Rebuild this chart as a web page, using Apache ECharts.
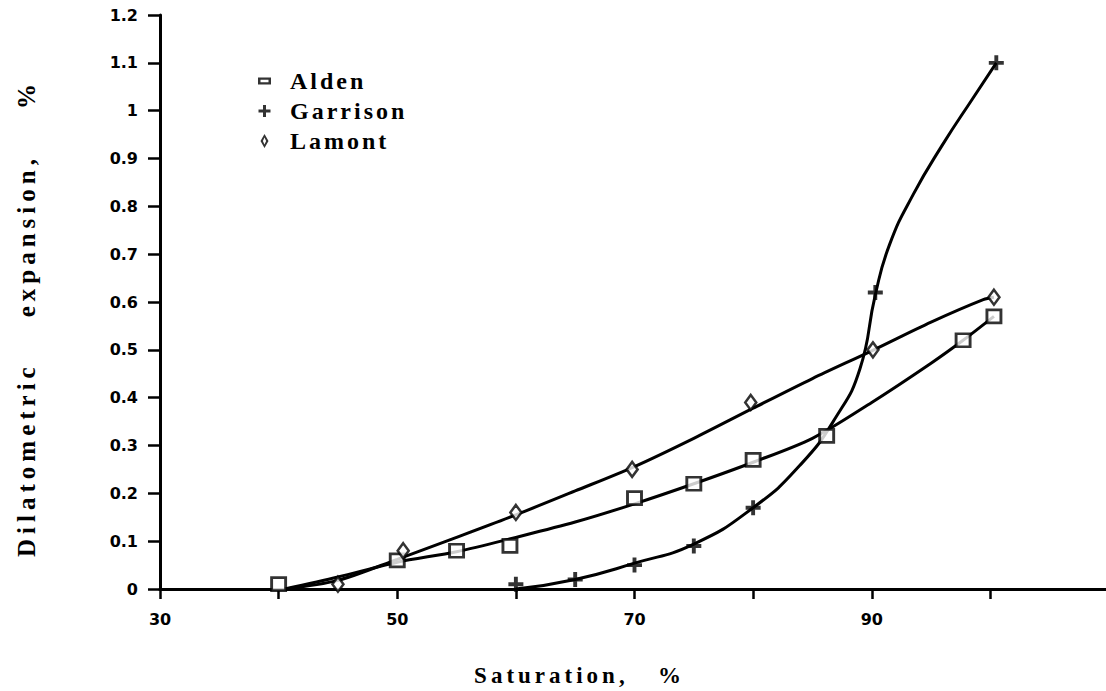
<!DOCTYPE html>
<html>
<head>
<meta charset="utf-8">
<script src="https://cdn.jsdelivr.net/npm/echarts@6/dist/echarts.min.js"></script>
<style>
  html, body { margin: 0; padding: 0; background: #fff; }
  #chart { width: 1106px; height: 691px; }
  /* spaced-out serif lettering: legend entries and axis titles */
  #chart text[style*="Liberation Serif"] { letter-spacing: 3px; white-space: pre; }
  #chart text[style*=", serif"] { letter-spacing: 4px; white-space: pre; }
  #chart text[style*="Times"] { letter-spacing: 5px; white-space: pre; }
</style>
</head>
<body>
<div id="chart"></div>
<script>
// Measured points: [saturation %, dilatometric expansion %]
const seriesNames = ['Alden', 'Garrison', 'Lamont'];
const aldenPoints = [[40, 0.01], [50, 0.06], [55, 0.08], [59.5, 0.09], [70, 0.19], [75, 0.22], [80, 0.27], [86.2, 0.32], [97.7, 0.52], [100.3, 0.57]];
const garrisonPoints = [[60, 0.01], [65, 0.02], [70, 0.05], [75, 0.09], [80, 0.17], [90.3, 0.62], [100.5, 1.10]];
const lamontPoints = [[45, 0.01], [50.5, 0.08], [60, 0.16], [69.8, 0.25], [79.8, 0.39], [90.1, 0.50], [100.3, 0.61]];

// Fitted trend curves through each set
const aldenCurve = [[40.5, 0], [45, 0.025], [50, 0.056], [55, 0.078], [60, 0.108], [65, 0.14], [70, 0.178], [75, 0.22], [80, 0.265], [85, 0.315], [90, 0.39], [95, 0.472], [97.7, 0.52], [100.3, 0.57]];
const garrisonCurve = [[60, 0], [65, 0.02], [70, 0.054], [75, 0.094], [80, 0.17], [84, 0.26], [87, 0.36], [89, 0.46], [90.3, 0.615], [91.5, 0.72], [93.5, 0.825], [96, 0.93], [98.5, 1.025], [100.5, 1.10]];
const lamontCurve = [[40.5, 0], [45, 0.018], [50, 0.062], [55, 0.108], [60, 0.155], [65, 0.205], [70, 0.256], [75, 0.315], [80, 0.378], [85, 0.44], [90, 0.498], [95, 0.558], [99.4, 0.605], [100.3, 0.61]];

const xTickLabels = [30, 50, 70, 90];
const xAxisTitle = 'Saturation,   %';
const yAxisTitle = 'Dilatometric    expansion,    %';

// Legend glyphs (the leading moves fix each glyph's box so it is drawn unscaled)
const legendIcons = {
  Alden: 'path://M0,0M27,14M0,3.5H13V10.5H0ZM2.5,5.8V8.2H10.5V5.8Z',
  Garrison: 'path://M0,0M27,14M5,1H8V5.5H12.5V8.5H8V13H5V8.5H0.5V5.5H5Z',
  Lamont: 'path://M0,0M27,14M6.5,0L10.5,7L6.5,14L2.5,7ZM6.5,3.4L4.9,7L6.5,10.6L8.1,7Z'
};

const plusPath = 'path://M5,0H8.5V5H13.5V8.5H8.5V13.5H5V8.5H0V5H5Z';

const curveStyle = { color: '#000', width: 3 };
function curve(data, smooth) {
  return {
    type: 'line', data: data, smooth: smooth,
    symbol: 'none', lineStyle: curveStyle, silent: true, z: 2
  };
}

const chart = echarts.init(document.getElementById('chart'), null, { renderer: 'svg' });
chart.setOption({
  animation: false,
  backgroundColor: '#fff',
  grid: { left: 160, right: -3, top: 15, bottom: 102, containLabel: false, outerBoundsMode: 'none' },
  legend: {
    orient: 'vertical', left: 253, top: 64, itemGap: 6,
    itemWidth: 27, itemHeight: 14,
    data: seriesNames.map(n => ({ name: n, icon: legendIcons[n], itemStyle: { color: '#000', borderWidth: 0 } })),
    textStyle: { fontFamily: 'Liberation Serif', fontWeight: 'bold', fontSize: 24, lineHeight: 24, color: '#000' },
    selectedMode: false
  },
  xAxis: [{
    type: 'value', min: 30, max: 110, interval: 10,
    name: xAxisTitle, nameLocation: 'middle', nameGap: 75,
    nameTextStyle: {
      fontFamily: 'Liberation Serif, serif', fontWeight: 'bold', fontSize: 23, lineHeight: 23,
      color: '#000', padding: [0, 110, 0, 0]
    },
    axisLine: { show: true, onZero: false, lineStyle: { color: '#000', width: 3 } },
    axisTick: { show: true, inside: false, length: 10, lineStyle: { color: '#000', width: 2.5 } },
    axisLabel: {
      margin: 22, fontFamily: 'DejaVu Sans', fontWeight: 'bold', fontSize: 16, color: '#000',
      formatter: v => xTickLabels.indexOf(v) >= 0 ? String(v) : ''
    },
    splitLine: { show: false }
  }, {
    type: 'value', position: 'top', min: 30, max: 110,
    axisLine: { show: true, lineStyle: { color: '#000', width: 3 } },
    axisTick: { show: false }, axisLabel: { show: false }, splitLine: { show: false }
  }],
  yAxis: {
    type: 'value', min: 0, max: 1.2, interval: 0.1,
    name: yAxisTitle, nameLocation: 'middle', nameGap: 121,
    nameTextStyle: {
      fontFamily: 'Liberation Serif, Times, serif', fontWeight: 'bold', fontSize: 25,
      color: '#000', padding: [0, 32, 0, 0]
    },
    axisLine: { show: true, lineStyle: { color: '#000', width: 3 } },
    axisTick: { show: true, inside: false, length: 12, lineStyle: { color: '#000', width: 2.5 } },
    axisLabel: {
      margin: 22, fontFamily: 'DejaVu Sans', fontWeight: 'bold', fontSize: 16, color: '#000',
      formatter: v => String(Math.round(v * 10) / 10)
    },
    splitLine: { show: false }
  },
  series: [
    curve(aldenCurve, 0.3),
    curve(garrisonCurve, 0.5),
    curve(lamontCurve, 0.3),
    {
      type: 'scatter', name: 'Alden', data: aldenPoints, symbol: 'rect', symbolSize: [14, 13],
      itemStyle: { color: '#fff', borderColor: '#000', borderWidth: 2.8 }, z: 5
    },
    {
      type: 'scatter', name: 'Garrison', data: garrisonPoints, symbol: plusPath, symbolSize: 15,
      itemStyle: { color: '#000' }, z: 5
    },
    {
      type: 'scatter', name: 'Lamont', data: lamontPoints, symbol: 'diamond', symbolSize: [11, 15],
      itemStyle: { color: '#fff', borderColor: '#000', borderWidth: 2.6 }, z: 5
    }
  ]
});
</script>
</body>
</html>
